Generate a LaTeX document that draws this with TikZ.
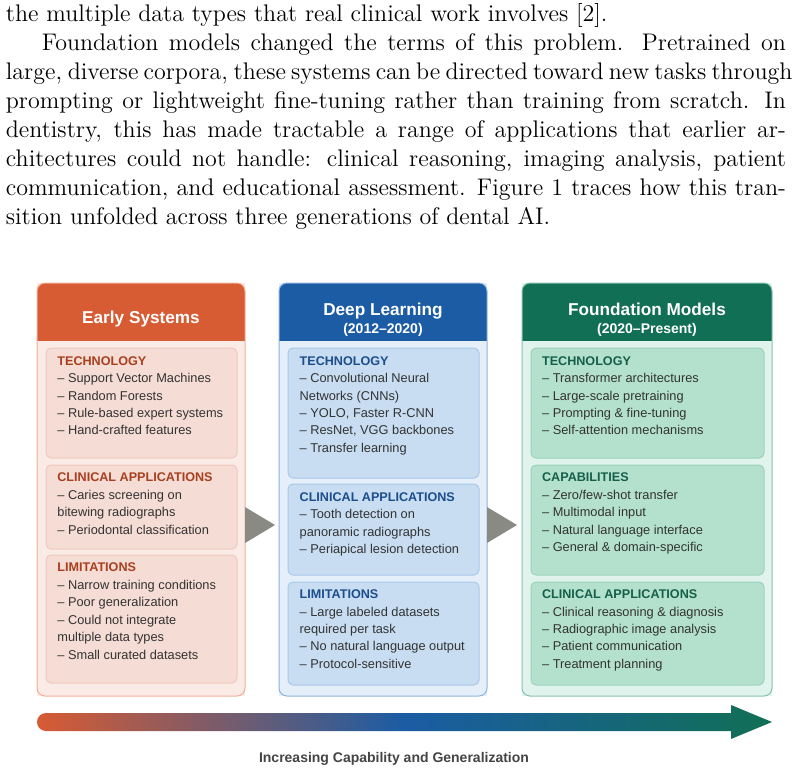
\documentclass[tikz,border=0pt]{standalone}
\usepackage{fontspec}
\newfontfamily\lsans{Liberation Sans}
\usetikzlibrary{calc}
\definecolor{hdrA}{HTML}{D75B33}
\definecolor{bodyA}{HTML}{FBEBE6}
\definecolor{subA}{HTML}{F5DCD4}
\definecolor{subbA}{HTML}{F0C9BC}
\definecolor{outA}{HTML}{F0AF97}
\definecolor{titA}{HTML}{A8401F}
\definecolor{hdrB}{HTML}{1B5CA4}
\definecolor{bodyB}{HTML}{E5EFFA}
\definecolor{subB}{HTML}{C8DDF2}
\definecolor{subbB}{HTML}{A9C8EA}
\definecolor{outB}{HTML}{8DB2DD}
\definecolor{titB}{HTML}{1C4E8C}
\definecolor{hdrC}{HTML}{116F55}
\definecolor{bodyC}{HTML}{E0F3EC}
\definecolor{subC}{HTML}{B3E1CD}
\definecolor{subbC}{HTML}{9DD3BC}
\definecolor{outC}{HTML}{86C2AA}
\definecolor{titC}{HTML}{165F4A}
\definecolor{itemgray}{HTML}{333333}
\definecolor{arrowgray}{HTML}{8A8A84}
\definecolor{labelgray}{HTML}{444444}
\tikzset{
  hdr/.style={font=\lsans\bfseries\fontsize{8.6}{10}\selectfont, text=white, inner sep=0, anchor=base},
  hdrsub/.style={font=\lsans\bfseries\fontsize{7}{8}\selectfont, text=white, inner sep=0, anchor=base},
  sectitle/.style={font=\lsans\bfseries\fontsize{6.3}{7}\selectfont, inner sep=0, anchor=base west},
  item/.style={font=\lsans\fontsize{6.4}{7}\selectfont, text=itemgray, inner sep=0, anchor=base west},
  boxnode/.style={inner sep=0, outer sep=0, anchor=north west, line width=0.5pt},
}
\newcommand\subbox[7]{%
  \node[boxnode, fill=#6, draw=#7, rounded corners=2.5pt,
        minimum width={(#4-#2)/2}, minimum height={(#5-#3)/2}] (#1) at (#2,#3) {};}
\newcommand\colbox[8]{% name x1 y1 x2 y2 body header border
  \node[boxnode, fill=#6, minimum width={(#4-#2)/2}, minimum height={(#5-#3)/2}] (#1) at (#2,#3) {};
  \begin{scope}
    \clip[rounded corners=4pt] (#1.north west) rectangle (#1.south east);
    \fill[#7] (#1.north west) rectangle (#1.east |- 0,341);
  \end{scope}
  \draw[#8, line width=0.5pt, rounded corners=4pt] (#1.north west) rectangle (#1.south east);}
\newcommand\sectext[6]{%
  \node[sectitle, text=#4] (#1) at (#2,#3) {#5};
  \foreach \ln [count=\k] in {#6}{
    \node[item] (#1-\k) at (#2,{#3+\k*17.4+0.3}) {\ln};
  }}
\begin{document}
\begin{tikzpicture}[x=0.5pt, y=-0.5pt]
\useasboundingbox (0,0) rectangle (794,771);

% body text
\node[anchor=north west, inner sep=0, text width=390pt, align=justify,
      font=\fontsize{12}{14.5}\selectfont] (body) at (5.5,3) {\hbadness=10000\hfuzz=10pt%
the multiple data types that real clinical work involves [2].\par
\hspace*{18pt}Foundation models changed the terms of this problem.  Pretrained on\linebreak
\hbox to \linewidth{large, diverse corpora, these systems can be directed toward new tasks through}\linebreak
prompting or lightweight fine-tuning rather than training from scratch.  In\linebreak
dentistry, this has made tractable a range of applications that earlier ar-\linebreak
chitectures could not handle: clinical reasoning, imaging analysis, patient\linebreak
communication, and educational assessment. Figure 1 traces how this tran-\linebreak
sition unfolded across three generations of dental AI.};

% columns
\colbox{c1}{37}{283}{245}{696}{bodyA}{hdrA}{outA}
\colbox{c2}{279}{283}{487}{696}{bodyB}{hdrB}{outB}
\colbox{c3}{522}{283}{772}{696}{bodyC}{hdrC}{outC}

\node[hdr] (h1) at (141,323) {Early Systems};
\node[hdr] (h2) at (383,315.5) {Deep Learning};
\node[hdrsub] (h2s) at (383,333.5) {(2012–2020)};
\node[hdr] (h3) at (647,315.5) {Foundation Models};
\node[hdrsub] (h3s) at (647,333.5) {(2020–Present)};

% sub boxes
\subbox{s11}{46}{348}{237}{458}{subA}{subbA}
\subbox{s12}{46}{465}{237}{549}{subA}{subbA}
\subbox{s13}{46}{555}{237}{683}{subA}{subbA}
\subbox{s21}{288}{348}{479}{478}{subB}{subbB}
\subbox{s22}{288}{484}{479}{575}{subB}{subbB}
\subbox{s23}{288}{582}{479}{685}{subB}{subbB}
\subbox{s31}{531}{348}{764}{458}{subC}{subbC}
\subbox{s32}{531}{465}{764}{575}{subC}{subbC}
\subbox{s33}{531}{582}{764}{685}{subC}{subbC}

% texts
\sectext{t11}{57}{365}{titA}{TECHNOLOGY}{– Support Vector Machines,– Random Forests,– Rule-based expert systems,– Hand-crafted features}
\sectext{t12}{57}{481.7}{titA}{CLINICAL APPLICATIONS}{– Caries screening on,bitewing radiographs,– Periodontal classification}
\sectext{t13}{57}{571.7}{titA}{LIMITATIONS}{– Narrow training conditions,– Poor generalization,– Could not integrate,multiple data types,– Small curated datasets}
\sectext{t21}{299.3}{365}{titB}{TECHNOLOGY}{– Convolutional Neural,Networks (CNNs),{– YOLO, Faster R-CNN},{– ResNet, VGG backbones},– Transfer learning}
\sectext{t22}{299.3}{501}{titB}{CLINICAL APPLICATIONS}{– Tooth detection on,panoramic radiographs,– Periapical lesion detection}
\sectext{t23}{299.3}{598.4}{titB}{LIMITATIONS}{– Large labeled datasets,required per task,– No natural language output,– Protocol-sensitive}
\sectext{t31}{541.7}{365}{titC}{TECHNOLOGY}{– Transformer architectures,– Large-scale pretraining,– Prompting \& fine-tuning,– Self-attention mechanisms}
\sectext{t32}{541.7}{481.7}{titC}{CAPABILITIES}{– Zero/few-shot transfer,– Multimodal input,– Natural language interface,– General \& domain-specific}
\sectext{t33}{541.7}{598.4}{titC}{CLINICAL APPLICATIONS}{– Clinical reasoning \& diagnosis,– Radiographic image analysis,– Patient communication,– Treatment planning}

% transition triangles
\fill[arrowgray] (c1.east |- 0,507) -- (c1.east |- 0,543) -- ([xshift=-2pt]c2.west |- 0,525) -- cycle;
\fill[arrowgray] (c2.east |- 0,507) -- (c2.east |- 0,543) -- ([xshift=-2.5pt]c3.west |- 0,525) -- cycle;

% gradient arrow
\coordinate (gs) at (37,722);
\coordinate (ge) at (772,722);
\shade[left color=hdrA, right color=hdrC, middle color=hdrB]
  (46,713) -- (731,713) -- (731,705) -- (ge) -- (731,739) -- (731,731) -- (46,731)
  .. controls (41,731) and (37,727) .. (gs) .. controls (37,717) and (41,713) .. (46,713) -- cycle;
\node[font=\lsans\bfseries\fontsize{7}{8}\selectfont, text=labelgray, inner sep=0, anchor=base] (lbl) at (394,762) {Increasing Capability and Generalization};
\end{tikzpicture}
\end{document}
